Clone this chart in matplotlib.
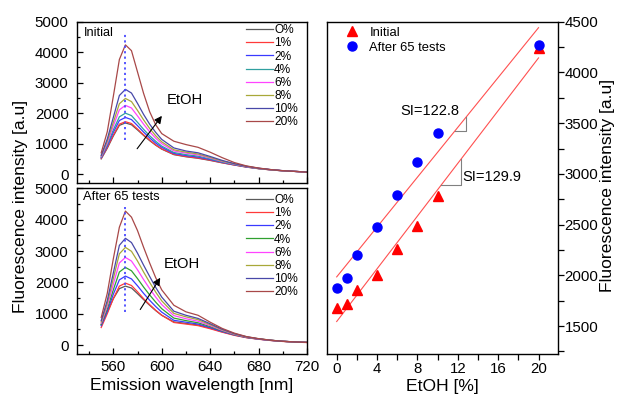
import matplotlib
matplotlib.use("Agg")
import matplotlib.pyplot as plt
from matplotlib.ticker import MultipleLocator
import numpy as np

plt.rcParams['font.family'] = ['Liberation Sans', 'DejaVu Sans']

# ---------------- data ----------------
wavelength = [550, 555, 560, 565, 570, 575, 580, 585, 590, 595, 600, 610, 620,
              630, 640, 650, 660, 670, 680, 690, 700, 710, 720]
labels = ['O%', '1%', '2%', '4%', '6%', '8%', '10%', '20%']

initial_spectra = [
    [500, 850, 1250, 1600, 1680, 1620, 1450, 1270, 1100, 950, 820, 640, 570, 520, 450, 370, 300, 230, 180, 140, 110, 90, 70],
    [520, 870, 1280, 1640, 1720, 1660, 1480, 1290, 1120, 960, 830, 650, 580, 530, 460, 375, 300, 235, 180, 140, 110, 90, 70],
    [540, 920, 1370, 1760, 1860, 1790, 1590, 1380, 1190, 1020, 880, 680, 610, 560, 480, 390, 310, 240, 185, 145, 110, 90, 70],
    [560, 960, 1450, 1880, 2000, 1920, 1700, 1470, 1260, 1080, 920, 710, 640, 590, 500, 400, 320, 245, 185, 145, 110, 90, 70],
    [580, 1020, 1580, 2110, 2257, 2170, 1910, 1640, 1390, 1180, 1000, 760, 690, 630, 530, 420, 330, 250, 190, 145, 110, 90, 70],
    [600, 1080, 1700, 2310, 2483, 2380, 2090, 1780, 1500, 1260, 1060, 800, 720, 660, 550, 430, 335, 255, 190, 145, 110, 90, 70],
    [620, 1150, 1860, 2580, 2781, 2660, 2320, 1960, 1640, 1370, 1140, 860, 760, 700, 580, 450, 345, 260, 195, 150, 115, 90, 70],
    [700, 1390, 2550, 3760, 4240, 4050, 3350, 2650, 2050, 1620, 1330, 1080, 970, 880, 720, 540, 380, 270, 200, 150, 115, 90, 65],
]
after_spectra = [
    [650, 1050, 1480, 1800, 1880, 1820, 1640, 1450, 1270, 1100, 950, 740, 690, 640, 540, 420, 320, 240, 190, 150, 120, 100, 85],
    [560, 1000, 1480, 1880, 1975, 1900, 1700, 1480, 1290, 1110, 950, 720, 670, 620, 520, 410, 310, 235, 185, 145, 115, 95, 80],
    [620, 1080, 1620, 2080, 2200, 2110, 1890, 1650, 1430, 1230, 1050, 790, 730, 670, 560, 430, 325, 245, 190, 150, 120, 100, 85],
    [660, 1150, 1760, 2330, 2476, 2370, 2120, 1850, 1600, 1370, 1160, 860, 780, 710, 590, 450, 335, 250, 195, 150, 120, 100, 85],
    [700, 1240, 1940, 2620, 2795, 2680, 2400, 2090, 1800, 1530, 1290, 940, 840, 760, 620, 470, 345, 255, 195, 150, 120, 100, 85],
    [740, 1330, 2120, 2910, 3116, 2990, 2680, 2330, 2000, 1690, 1410, 1010, 900, 810, 650, 490, 355, 260, 200, 155, 120, 100, 85],
    [780, 1420, 2300, 3180, 3405, 3270, 2930, 2550, 2190, 1840, 1530, 1080, 950, 850, 680, 505, 365, 265, 200, 155, 120, 100, 85],
    [880, 1650, 2750, 3760, 4273, 4080, 3650, 3120, 2620, 2150, 1760, 1270, 1060, 950, 730, 530, 380, 270, 205, 155, 120, 100, 85],
]

etoh = [0, 1, 2, 4, 6, 8, 10, 20]
peak_initial = [1680, 1720, 1860, 2000, 2257, 2483, 2781, 4240]
peak_after = [1880, 1975, 2200, 2476, 2795, 3116, 3405, 4273]

fit_x = [0, 20]
fit_after = (1985, 122.8)    # intercept, slope
fit_initial = (1545, 129.9)

colors_top = ['#5a5a5a', '#ff3a3a', '#3a3aff', '#30a0a0', '#ff44ff', '#a8a838', '#4848a8', '#a84848']
colors_bot = ['#5a5a5a', '#ff3a3a', '#3a3aff', '#30a030', '#ff44ff', '#a8a838', '#4848a8', '#a84848']

# ---------------- figure ----------------
W, H = 618, 399
fig = plt.figure(figsize=(W / 100, H / 100), dpi=100)

def rect(l, r, t, b):
    return [l / W, (H - b) / H, (r - l) / W, (b - t) / H]

ax1 = fig.add_axes(rect(77, 307, 21.7, 183.3))
ax2 = fig.add_axes(rect(77, 307, 188.3, 354))
ax3 = fig.add_axes(rect(327.3, 557.7, 21.7, 354))

TICK_FS = 10.8
LAB_FS = 12.6

def style_left(ax, show_xlabels):
    ax.set_xlim(530, 720)
    ax.xaxis.set_major_locator(MultipleLocator(40))
    ax.xaxis.set_minor_locator(MultipleLocator(20))
    ax.yaxis.set_major_locator(MultipleLocator(1000))
    ax.yaxis.set_minor_locator(MultipleLocator(500))
    ax.tick_params(which='both', direction='in', top=False, right=False, labelsize=TICK_FS)
    ax.tick_params(which='major', length=4, width=0.9)
    ax.tick_params(which='minor', length=2.2, width=0.9)
    ax.tick_params(axis='y', pad=6)
    ax.tick_params(axis='x', pad=4)
    if not show_xlabels:
        ax.tick_params(axis='x', labelbottom=False)
    for s in ax.spines.values():
        s.set_linewidth(1.0)

for ax, spectra, cols in ((ax1, initial_spectra, colors_top), (ax2, after_spectra, colors_bot)):
    for lab, sp, c in zip(labels, spectra, cols):
        ax.plot(wavelength, sp, color=c, lw=0.9, label=lab)

ax1.set_ylim(-300, 5000)
ax2.set_ylim(-285, 5000)
style_left(ax1, False)
style_left(ax2, True)

# dotted peak markers
ax1.plot([570, 570], [1134, 4600], color='#4a4aff', ls=(0, (1.2, 1.8)), lw=1.3)
ax2.plot([570, 570], [1058, 4413], color='#4a4aff', ls=(0, (1.2, 1.8)), lw=1.3)

# EtOH arrows
ax1.annotate('', xy=(601.5, 1984), xytext=(578.3, 761),
             arrowprops=dict(arrowstyle='-|>', color='black', lw=0.8, mutation_scale=11))
ax1.text(604, 2418, 'EtOH', fontsize=10.6, ha='left', va='center')
ax2.annotate('', xy=(600, 2222), xytext=(581, 1058),
             arrowprops=dict(arrowstyle='-|>', color='black', lw=0.8, mutation_scale=11))
ax2.text(602, 2571, 'EtOH', fontsize=10.6, ha='left', va='center')

ax1.text(536, 4634, 'Initial', fontsize=9.2, ha='left', va='center')
ax2.text(535.2, 4723, 'After 65 tests', fontsize=9.4, ha='left', va='center')

for ax, anchor_y in ((ax1, 0.985), (ax2, 0.966)):
    ax.legend(loc='upper left', bbox_to_anchor=(0.735, anchor_y), frameon=False,
              fontsize=8.6, handlelength=2.25, handletextpad=0.1, labelspacing=0.1,
              borderpad=0, borderaxespad=0)

ax2.set_xlabel('Emission wavelength [nm]', fontsize=LAB_FS, labelpad=3)
fig.text(21 / W, (H - 206.5) / H, 'Fluorescence intensity [a.u]', rotation=90,
         fontsize=LAB_FS, ha='center', va='center')

# ---------------- right panel ----------------
xs = np.array(fit_x, dtype=float)
ax3.plot(xs, fit_after[0] + fit_after[1] * xs, color='#ff5050', lw=0.8)
ax3.plot(xs, fit_initial[0] + fit_initial[1] * xs, color='#ff5050', lw=0.8)
ax3.plot(etoh, peak_initial, ls='none', marker='^', color='#ff0000', ms=7.5, label='Initial')
ax3.plot(etoh, peak_after, ls='none', marker='o', color='#0000ff', ms=6.5, label='After 65 tests')

# slope triangles
tri = [(fit_after, 11.69, 12.84, 3420), (fit_initial, 10.38, 12.31, 2893)]
for (b0, b1), xa, xb, yb in tri:
    ax3.plot([xa, xb, xb], [yb, yb, b0 + b1 * xb], color='#808080', lw=0.8)
ax3.text(6.28, 3620, 'SI=122.8', fontsize=10.5, ha='left', va='center')
ax3.text(12.5, 2972, 'SI=129.9', fontsize=10.5, ha='left', va='center')

ax3.set_xlim(-0.93, 21.9)
ax3.set_ylim(1225, 4500)
ax3.xaxis.set_major_locator(MultipleLocator(4))
ax3.xaxis.set_minor_locator(MultipleLocator(2))
ax3.yaxis.set_major_locator(MultipleLocator(500))
ax3.yaxis.set_minor_locator(MultipleLocator(250))
ax3.yaxis.tick_right()
ax3.yaxis.set_label_position('right')
ax3.tick_params(which='both', direction='out', labelsize=TICK_FS, left=False, top=False)
ax3.tick_params(which='major', length=4.5, width=0.9)
ax3.tick_params(which='minor', length=4.5, width=0.9)
ax3.tick_params(axis='y', pad=0.5)
ax3.tick_params(axis='x', pad=1.5)
for s in ax3.spines.values():
    s.set_linewidth(1.0)
ax3.set_xlabel('EtOH [%]', fontsize=LAB_FS, labelpad=2)
fig.text(607.5 / W, (H - 185.5) / H, 'Fluorescence intensity [a.u]', rotation=90,
         fontsize=LAB_FS, ha='center', va='center')

ax3.legend(loc='upper left', bbox_to_anchor=(0.078, 0.985), frameon=False,
           fontsize=9.4, handlelength=1.0, handletextpad=0.85, labelspacing=0.2,
           borderpad=0, borderaxespad=0, numpoints=1)

fig.savefig('out.png', dpi=100)
